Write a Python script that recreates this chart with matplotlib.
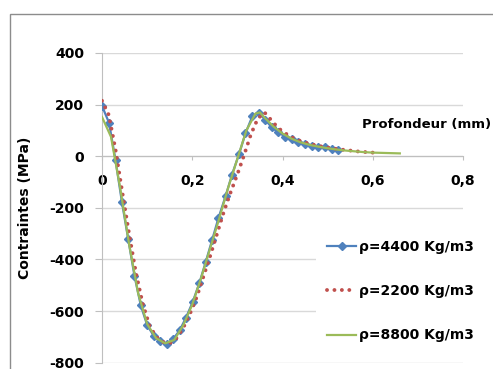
import matplotlib
matplotlib.use("Agg")
import matplotlib.pyplot as plt
from matplotlib.patches import Rectangle

# depth (mm) / stress (MPa)
x_4400 = [0.000, 0.0155, 0.030, 0.044, 0.058, 0.072, 0.086, 0.100, 0.115, 0.129,
          0.143, 0.157, 0.172, 0.186, 0.201, 0.216, 0.230, 0.244, 0.258, 0.274,
          0.288, 0.304, 0.318, 0.333, 0.347, 0.362, 0.376, 0.391, 0.406, 0.420,
          0.435, 0.450, 0.465, 0.479, 0.494, 0.509, 0.524]
y_4400 = [195, 130, -15, -176, -320, -464, -578, -654, -697, -716,
          -729, -710, -675, -626, -565, -490, -409, -325, -240, -154,
          -72, 10, 89, 154, 169, 141, 112, 92, 76, 65,
          56, 48, 41, 37, 34, 28, 26]

x_2200 = [0.000, 0.015, 0.030, 0.045, 0.060, 0.075, 0.090, 0.105, 0.120, 0.135,
          0.150, 0.165, 0.180, 0.195, 0.210, 0.225, 0.240, 0.255, 0.270, 0.285,
          0.300, 0.315, 0.330, 0.345, 0.360, 0.375, 0.390, 0.405, 0.420, 0.435,
          0.450, 0.465, 0.480, 0.495, 0.510, 0.525, 0.540, 0.555, 0.570, 0.585,
          0.600, 0.612]
y_2200 = [215, 160, 25, -140, -300, -450, -570, -655, -700, -720,
          -725, -705, -665, -610, -545, -465, -385, -300, -215, -140,
          -70, 5, 85, 145, 170, 140, 110, 90, 74, 62,
          53, 46, 40, 35, 31, 27, 24, 21, 18, 16,
          14, 13]

x_8800 = [0.00, 0.02, 0.04, 0.06, 0.08, 0.10, 0.12, 0.14, 0.16, 0.18,
          0.20, 0.22, 0.24, 0.26, 0.28, 0.30, 0.32, 0.34, 0.35, 0.36,
          0.38, 0.40, 0.42, 0.44, 0.46, 0.48, 0.50, 0.52, 0.54, 0.56,
          0.58, 0.60, 0.62, 0.64, 0.66]
y_8800 = [152, 75, -120, -340, -530, -650, -705, -725, -712, -655,
          -575, -470, -355, -240, -120, -10, 100, 165, 170, 150,
          115, 88, 68, 54, 44, 37, 31, 26, 22, 19,
          16, 14, 13, 12, 11]

x_ticks = [0, 0.2, 0.4, 0.6, 0.8]
x_tick_labels = ["0", "0,2", "0,4", "0,6", "0,8"]
y_ticks = [-800, -600, -400, -200, 0, 200, 400]
y_tick_labels = ["-800", "-600", "-400", "-200", "0", "200", "400"]

GRID = "#d9d9d9"
AXIS = "#bfbfbf"

plt.rcParams["font.family"] = "DejaVu Sans"
plt.rcParams["font.weight"] = "bold"

W, H = 493, 369
fig = plt.figure(figsize=(W / 100, H / 100), dpi=100)
ax = fig.add_axes([102 / W, 1 - 362.7 / H, 361 / W, (362.7 - 53) / H])

ax.plot(x_4400, y_4400, color="#4f81bd", lw=1.6, marker="D", ms=4,
        label="ρ=4400 Kg/m3", zorder=3)
ax.plot(x_2200, y_2200, color="#c0504d", lw=2.8, linestyle=(0, (0.01, 1.9)),
        dash_capstyle="round", label="ρ=2200 Kg/m3", zorder=4)
ax.plot(x_8800, y_8800, color="#9bbb59", lw=1.6, label="ρ=8800 Kg/m3", zorder=5)

ax.set_xlim(0, 0.8)
ax.set_ylim(-800, 400)
ax.set_xticks(x_ticks)
ax.set_xticklabels(x_tick_labels, fontsize=10, fontweight="bold")
ax.set_yticks(y_ticks)
ax.set_yticklabels(y_tick_labels, fontsize=10, fontweight="bold")

ax.grid(axis="y", color=GRID, lw=1)
ax.set_axisbelow(True)
for s in ("top", "right"):
    ax.spines[s].set_visible(False)
ax.spines["left"].set_color(AXIS)
ax.spines["bottom"].set_color(AXIS)
ax.spines["bottom"].set_position(("data", 0))
ax.tick_params(axis="x", direction="out", length=3, color=AXIS, pad=10)
ax.tick_params(axis="y", direction="out", length=5, color=AXIS, pad=8)

ax.set_ylabel("Contraintes (MPa)", fontsize=10, fontweight="bold")
ax.yaxis.set_label_coords(-0.194, 0.5)

fig.text(362 / W, 1 - 125 / H, "Profondeur (mm)", fontsize=9.5,
         fontweight="bold", ha="left", va="center")

leg = ax.legend(loc="upper left", bbox_to_anchor=(316 / W, 1 - 229 / H),
                bbox_transform=fig.transFigure, frameon=True, fontsize=10,
                handlelength=2.1, handletextpad=0.2, labelspacing=2.17,
                borderpad=0.8, borderaxespad=0)
leg.get_frame().set_facecolor("white")
leg.get_frame().set_edgecolor("none")
leg.get_frame().set_alpha(1)

# outer chart frame (clipped at right/bottom like the source)
fig.patches.append(Rectangle((10 / W, -0.1), 1.2, 1 - 14 / H + 0.1,
                             transform=fig.transFigure, fill=False,
                             edgecolor="#8c8c8c", lw=1))

fig.savefig("out.png", dpi=100)
